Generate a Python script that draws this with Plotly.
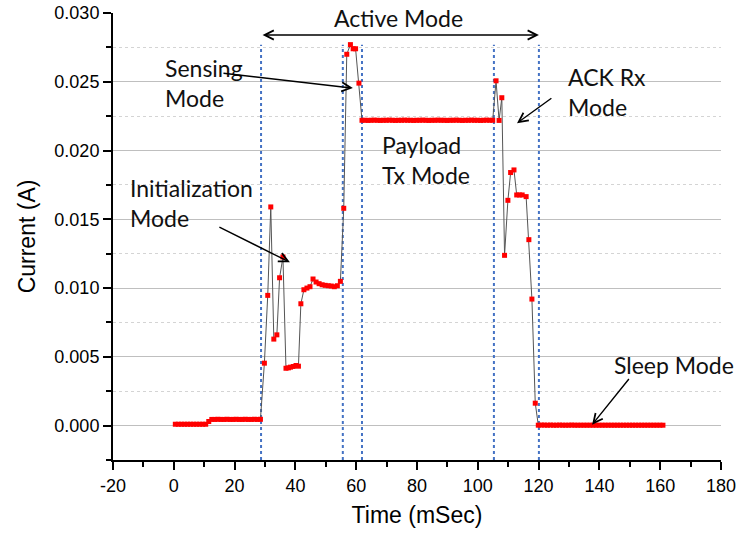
import plotly.graph_objects as go

# ---------------- data ----------------
# idle / pre-active segment
t_idle = [0.5, 1.5, 2.5, 3.5, 4.5, 5.5, 6.5, 7.5, 8.5, 9.5, 10.5, 11.5,
          12.5, 13.5, 14.5, 15.5, 16.5, 17.5, 18.5, 19.5, 20.5, 21.5, 22.5,
          23.5, 24.5, 25.5, 26.5, 27.5, 28.5]
i_idle = [0.0001, 0.0001, 0.0001, 0.0001, 0.0001, 0.0001, 0.0001, 0.0001,
          0.0001, 0.0001, 0.0001, 0.0003,
          0.00045, 0.00045, 0.00046, 0.00045, 0.00045, 0.00046, 0.00045,
          0.00045, 0.00046, 0.00045, 0.00045, 0.00046, 0.00045, 0.00045,
          0.00046, 0.00045, 0.00046]

# initialization + sensing segment
t_init = [29.8, 30.9, 31.9, 32.9, 33.9, 34.8, 35.9, 36.9, 37.7, 38.4, 39.3,
          40.2, 41.0, 41.8, 42.8, 43.8, 44.8, 45.8, 46.8, 47.8, 48.8, 49.8,
          50.8, 51.8, 52.8, 53.8, 54.8, 55.9, 56.9, 58.1, 59.0, 59.8, 60.9,
          61.9]
i_init = [0.00454, 0.00947, 0.0159, 0.00629, 0.0066, 0.01075, 0.01226,
          0.00417, 0.0042, 0.00425, 0.0043, 0.00437, 0.00432, 0.00886,
          0.00988, 0.0100, 0.0101, 0.01066, 0.01044, 0.01032, 0.01024,
          0.0102, 0.01017, 0.01015, 0.0101, 0.01017, 0.01049, 0.0158,
          0.0270, 0.0277, 0.0274, 0.0274, 0.0249, 0.0222]

# payload transmission segment
t_tx = [62.9, 63.9, 64.9, 65.9, 66.9, 67.9, 68.9, 69.9, 70.9, 71.9, 72.9,
        73.9, 74.9, 75.9, 76.9, 77.9, 78.9, 79.9, 80.9, 81.9, 82.9, 83.9,
        84.9, 85.9, 86.9, 87.9, 88.9, 89.9, 90.9, 91.9, 92.9, 93.9, 94.9,
        95.9, 96.9, 97.9, 98.9, 99.9, 100.9, 101.9, 102.9, 103.9, 104.9]
i_tx = [0.0222, 0.02219, 0.0222, 0.02221, 0.0222, 0.02219, 0.0222, 0.0222,
        0.02221, 0.0222, 0.02219, 0.0222, 0.0222, 0.02221, 0.0222, 0.0222,
        0.02219, 0.0222, 0.0222, 0.02221, 0.0222, 0.02219, 0.0222, 0.0222,
        0.02221, 0.0222, 0.0222, 0.02219, 0.0222, 0.0222, 0.02221, 0.0222,
        0.02219, 0.0222, 0.0222, 0.02221, 0.0222, 0.0222, 0.02219, 0.0222,
        0.02221, 0.0222, 0.0222]

# ACK reception segment
t_ack = [106.0, 107.0, 107.9, 108.8, 109.9, 110.8, 111.9, 112.8, 113.7,
         114.6, 115.9, 116.8, 117.8, 118.9, 119.9]
i_ack = [0.02507, 0.02219, 0.02384, 0.01238, 0.01638, 0.0184, 0.01859,
         0.01677, 0.01677, 0.01677, 0.01665, 0.01352, 0.0092, 0.00163,
         0.00003]

# sleep segment
t_sleep = [120.9, 121.9, 122.9, 123.9, 124.9, 125.9, 126.9, 127.9, 128.9,
           129.9, 130.9, 131.9, 132.9, 133.9, 134.9, 135.9, 136.9, 137.9,
           138.9, 139.9, 140.9, 141.9, 142.9, 143.9, 144.9, 145.9, 146.9,
           147.9, 148.9, 149.9, 150.9, 151.9, 152.9, 153.9, 154.9, 155.9,
           156.9, 157.9, 158.9, 159.9, 160.9]
i_sleep = [0.00004, 0.00004, 0.00003, 0.00004, 0.00003, 0.00003, 0.00004,
           0.00003, 0.00003, 0.00003, 0.00004, 0.00003, 0.00003, 0.00003,
           0.00003, 0.00003, 0.00003, 0.00003, 0.00003, 0.00003, 0.00003,
           0.00003, 0.00003, 0.00003, 0.00003, 0.00003, 0.00003, 0.00003,
           0.00003, 0.00003, 0.00003, 0.00003, 0.00003, 0.00003, 0.00003,
           0.00003, 0.00003, 0.00003, 0.00003, 0.00003, 0.00003]

time_ms = t_idle + t_init + t_tx + t_ack + t_sleep
current_a = i_idle + i_init + i_tx + i_ack + i_sleep

# boundaries between operating modes (ms)
mode_boundaries = [28.7, 55.6, 61.9, 105.3, 120.1]

x_ticks = [-20, 0, 20, 40, 60, 80, 100, 120, 140, 160, 180]
y_ticks = [0.000, 0.005, 0.010, 0.015, 0.020, 0.025, 0.030]

# ---------------- figure ----------------
fig = go.Figure()
fig.add_trace(go.Scatter(
    x=time_ms, y=current_a, mode="lines+markers",
    line=dict(color="#555555", width=1),
    marker=dict(symbol="square", size=5, color="#FF0000",
                line=dict(width=0)),
    showlegend=False, hoverinfo="skip"))

for b in mode_boundaries:
    fig.add_shape(type="line", xref="x", yref="y", x0=b, x1=b,
                  y0=-0.0025, y1=0.0277, layer="between",
                  line=dict(color="#4472C4", width=2, dash="dot"))

ann_font = dict(family="Lato, Calibri, sans-serif", size=23, color="#111111")

texts = [
    ("Active Mode", 73.75, 0.02964, "center"),
    ("Sensing<br>Mode", -3.55, 0.02494, "left"),
    ("Initialization<br>Mode", -15.1, 0.0162, "left"),
    ("Payload<br>Tx Mode", 67.8, 0.01933, "left"),
    ("ACK Rx<br>Mode", 129.0, 0.02428, "left"),
    ("Sleep Mode", 144.2, 0.00444, "left"),
]
for txt, x, y, anc in texts:
    fig.add_annotation(text=txt, x=x, y=y, xref="x", yref="y",
                       xanchor=anc, yanchor="middle", align="left",
                       showarrow=False, font=ann_font)

arrows = [  # (tail x, tail y, head x, head y)
    (15.85, 0.02563, 58.9, 0.02454),
    (14.5, 0.01449, 38.2, 0.01187),
    (124.7, 0.02388, 112.9, 0.02199),
    (150.1, 0.0035, 137.6, 0.00007),
]
for tx, ty, hx, hy in arrows:
    fig.add_annotation(text="", x=hx, y=hy, ax=tx, ay=ty,
                       xref="x", yref="y", axref="x", ayref="y",
                       showarrow=True, arrowhead=5, arrowsize=1.3,
                       arrowwidth=1.4, arrowcolor="black")

# double-headed "Active Mode" span arrow
fig.add_annotation(text="", x=mode_boundaries[-1], y=0.0284,
                   ax=mode_boundaries[0], ay=0.0284,
                   xref="x", yref="y", axref="x", ayref="y",
                   showarrow=True, arrowhead=5, startarrowhead=5,
                   arrowside="end+start", arrowsize=1.3, startarrowsize=1.3,
                   arrowwidth=1.4, arrowcolor="black")

tick_font = dict(family="Liberation Sans, Arial, sans-serif", size=18,
                 color="black")
title_font = dict(family="Liberation Sans, Arial, sans-serif", size=23,
                  color="black")

fig.update_layout(
    width=740, height=538,
    margin=dict(l=113, r=19, t=13, b=78),
    paper_bgcolor="white", plot_bgcolor="white",
    xaxis=dict(
        range=[-20, 180], tickvals=x_ticks,
        ticktext=[str(v) for v in x_ticks],
        automargin=False,
        showgrid=False, zeroline=False,
        showline=True, linecolor="black", linewidth=2,
        ticks="outside", ticklen=8, tickwidth=2, tickcolor="black",
        tickfont=tick_font,
        minor=dict(dtick=10, tick0=0, ticks="outside", ticklen=5,
                   tickwidth=2, tickcolor="black", showgrid=False),
        title=dict(text="Time (mSec)", font=title_font, standoff=12),
    ),
    yaxis=dict(
        range=[-0.0025, 0.030], tickvals=y_ticks,
        tickformat=".3f",
        automargin=False,
        showgrid=True, gridcolor="#BFBFBF", gridwidth=1,
        zeroline=False,
        showline=True, linecolor="black", linewidth=2,
        ticks="outside", ticklen=8, tickwidth=2, tickcolor="black",
        tickfont=tick_font,
        minor=dict(dtick=0.0025, tick0=0, ticks="outside", ticklen=5,
                   tickwidth=2, tickcolor="black", showgrid=True,
                   gridcolor="#D4D4D4", griddash="dot", gridwidth=1),
        title=dict(text="Current (A)", font=title_font, standoff=12),
    ),
)

fig.write_html("out.html")
